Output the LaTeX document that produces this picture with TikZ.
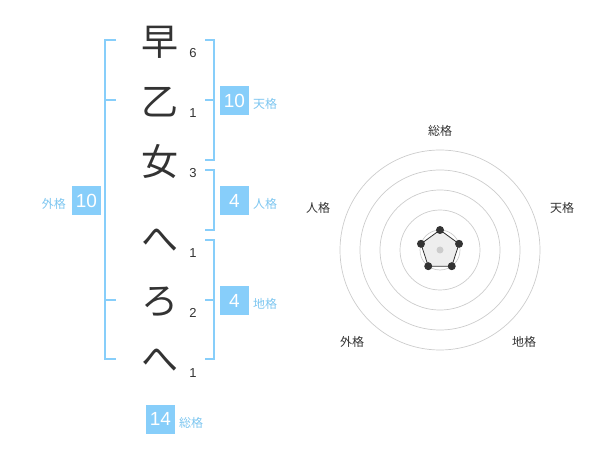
\documentclass[tikz,border=0pt]{standalone}
\usepackage{fontspec}
\usetikzlibrary{calc}
\setmainfont{Liberation Sans}
\newfontfamily\jpfont{Noto Sans CJK JP}
\definecolor{kakublue}{RGB}{135,206,250}
\definecolor{kakutext}{RGB}{125,198,240}
\definecolor{inkgray}{RGB}{51,51,51}
\definecolor{ringgray}{RGB}{204,204,204}
\definecolor{areagray}{RGB}{238,238,238}
\begin{document}
\begin{tikzpicture}[x=1pt,y=-1pt,every node/.style={inner sep=0pt},
  moji/.style={font=\jpfont\fontsize{37}{37}\selectfont,text=inkgray},
  kakusu/.style={font=\fontsize{13}{13}\selectfont,text=inkgray},
  numbox/.style={fill=kakublue,minimum size=29pt,text=white,font=\fontsize{19}{19}\selectfont},
  boxlabel/.style={font=\jpfont\fontsize{12}{12}\selectfont,text=kakutext},
  bracket/.style={draw=kakublue,line width=2pt},
  axislabel/.style={font=\jpfont\fontsize{12}{12}\selectfont,text=inkgray}]
\useasboundingbox (0,0) rectangle (600,470);
% name characters and stroke counts
\node[moji] (m1) at (160,42) {早}; \node[kakusu] (k1) at (193,53) {6};
\node[moji] (m2) at (160,102) {乙}; \node[kakusu] (k2) at (193,113) {1};
\node[moji] (m3) at (160,162) {女}; \node[kakusu] (k3) at (193,173) {3};
\node[moji] (m4) at (160,240) {へ}; \node[kakusu] (k4) at (193,253) {1};
\node[moji] (m5) at (160,302) {ろ}; \node[kakusu] (k5) at (193,313) {2};
\node[moji] (m6) at (160,360) {へ}; \node[kakusu] (k6) at (193,373) {1};
% brackets
\draw[bracket] (116,40) -- (105,40) -- (105,359) -- (116,359);
\draw[bracket] (105,100) -- (116,100); \draw[bracket] (105,300) -- (116,300);
\draw[bracket] (205,40) -- (214,40) -- (214,160) -- (205,160); \draw[bracket] (205,100) -- (214,100);
\draw[bracket] (205,170) -- (214,170) -- (214,230) -- (205,230);
\draw[bracket] (205,240) -- (214,240) -- (214,359) -- (205,359); \draw[bracket] (205,300) -- (214,300);
% totals
\node[numbox] (ten) at (234.5,100.5) {10}; \node[boxlabel,anchor=west] (tenl) at (253,104) {天格};
\node[numbox] (jin) at (234.5,200.5) {4}; \node[boxlabel,anchor=west] (jinl) at (253,204) {人格};
\node[numbox] (chi) at (234.5,300.5) {4}; \node[boxlabel,anchor=west] (chil) at (253,304) {地格};
\node[numbox] (gai) at (86.5,200.5) {10}; \node[boxlabel,anchor=east] (gail) at (66,204) {外格};
\node[numbox] (sou) at (160.5,419) {14}; \node[boxlabel,anchor=west] (soul) at (179,423) {総格};
% radar chart
\coordinate (c) at (440,250);
\foreach \r in {20,40,60,80,100} \draw[ringgray,line width=0.7pt] (c) circle (\r);
\draw[inkgray,line width=0.8pt,fill=areagray] ($(c)+(-90:20)$) -- ($(c)+(-18:20)$) -- ($(c)+(54:20)$) -- ($(c)+(126:20)$) -- ($(c)+(198:20)$) -- cycle;
\fill[ringgray] (c) circle (3.5);
\foreach \a in {-90,-18,54,126,198} \fill[inkgray] ($(c)+(\a:20)$) circle (4);
\node[axislabel] (ax1) at (440,131) {総格};
\node[axislabel] (ax2) at (562,208) {天格};
\node[axislabel] (ax3) at (318,208) {人格};
\node[axislabel] (ax4) at (352,342) {外格};
\node[axislabel] (ax5) at (524,342) {地格};
\end{tikzpicture}
\end{document}
